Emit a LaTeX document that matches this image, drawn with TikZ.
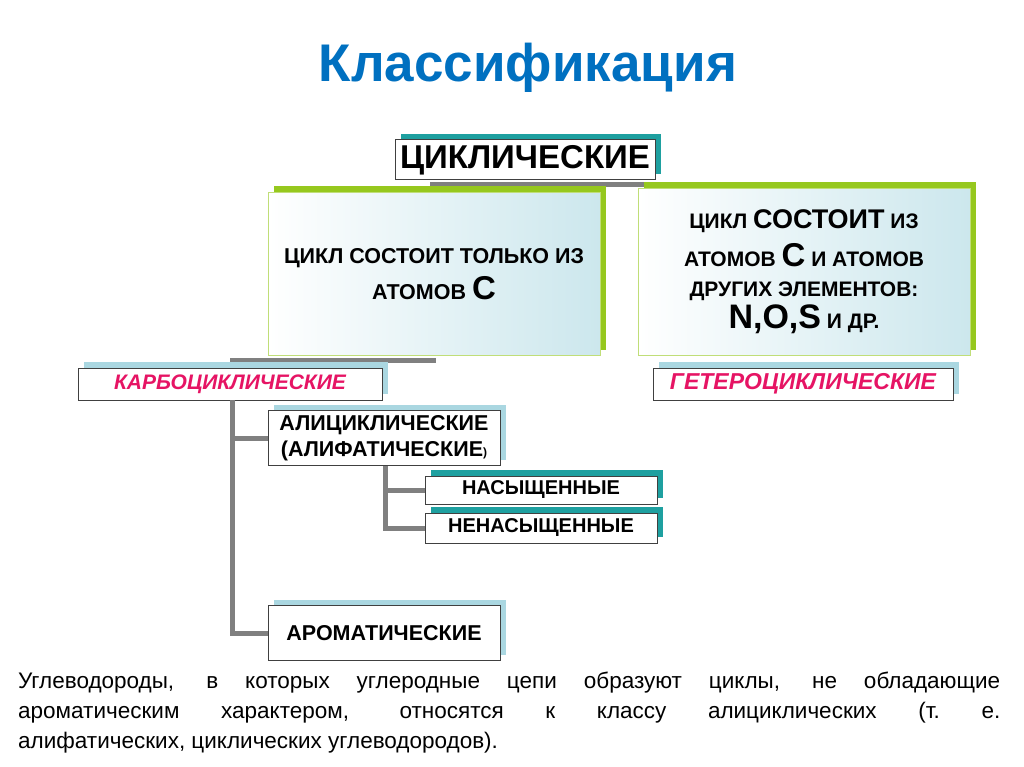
\documentclass[tikz,border=0pt]{standalone}
\usepackage{fontspec}
\setmainfont{Liberation Sans}
\usetikzlibrary{shadows}
\definecolor{ttl}{RGB}{0,112,192}
\definecolor{tealsh}{RGB}{30,160,160}
\definecolor{lbsh}{RGB}{170,215,225}
\definecolor{grn}{RGB}{150,200,30}
\definecolor{mag}{RGB}{230,20,100}
\definecolor{conn}{RGB}{128,128,128}
\tikzset{
 box/.style={draw=black!75, line width=1pt, fill=white, font=\bfseries, align=center, inner sep=0pt},
 tsh/.style={drop shadow={shadow xshift=6pt, shadow yshift=6pt, opacity=1, fill=tealsh}},
 lsh/.style={drop shadow={shadow xshift=6pt, shadow yshift=6pt, opacity=1, fill=lbsh}},
 bigbox/.style={draw=grn!60, line width=1pt, left color=white, right color=lbsh!60, align=center, font=\bfseries, inner sep=0pt,
   drop shadow={shadow xshift=6pt, shadow yshift=6pt, opacity=1, fill=grn}},
 cn/.style={conn, line width=5pt}
}
\begin{document}
\begin{tikzpicture}[x=1pt,y=-1pt]
\useasboundingbox (0,0) rectangle (1024,767);
\node[font=\bfseries\fontsize{53}{56}\selectfont, text=ttl] (title) at (528,68) {Классификация};
\coordinate (hl) at (430,185); \coordinate (hr) at (808,185);
\draw[cn] (hl) -- (hr);
\coordinate (ml) at (230,360); \coordinate (mr) at (436,360);
\draw[cn] (ml) -- (mr);
\node[box, tsh, minimum width=260, minimum height=40, font=\bfseries\fontsize{33}{35}\selectfont] (cyc) at (525,160) {ЦИКЛИЧЕСКИЕ};
\node[bigbox, minimum width=332, minimum height=163, font=\bfseries\fontsize{21.5}{30}\selectfont] (left) at (434,274) {ЦИКЛ СОСТОИТ ТОЛЬКО ИЗ\\[6pt] АТОМОВ {\fontsize{33}{33}\selectfont C}};
\node[bigbox, minimum width=332, minimum height=167, font=\bfseries\fontsize{21}{30}\selectfont] (right) at (804,272) {ЦИКЛ {\fontsize{27}{27}\selectfont СОСТОИТ} ИЗ\\[8pt] АТОМОВ {\fontsize{33}{33}\selectfont C} И АТОМОВ\\ ДРУГИХ ЭЛЕМЕНТОВ:\\[2pt] {\fontsize{34}{34}\selectfont N,O,S} И ДР.};
\node[box, lsh, minimum width=304, minimum height=32, text=mag, font=\bfseries\itshape\fontsize{21}{22}\selectfont] (carb) at (230,384) {КАРБОЦИКЛИЧЕСКИЕ};
\node[box, lsh, minimum width=300, minimum height=32, text=mag, font=\bfseries\itshape\fontsize{23}{22}\selectfont] (het) at (803,384) {ГЕТЕРОЦИКЛИЧЕСКИЕ};
\node[box, lsh, minimum width=232, minimum height=55, font=\bfseries\fontsize{21.5}{26}\selectfont] (ali) at (384,438) {АЛИЦИКЛИЧЕСКИЕ\\(АЛИФАТИЧЕСКИЕ{\fontsize{12}{12}\selectfont)}};
\node[box, tsh, minimum width=232, minimum height=28, font=\bfseries\fontsize{20}{22}\selectfont] (sat) at (541,490) {НАСЫЩЕННЫЕ};
\node[box, tsh, minimum width=232, minimum height=30, font=\bfseries\fontsize{20}{22}\selectfont] (uns) at (541,528) {НЕНАСЫЩЕННЫЕ};
\node[box, lsh, minimum width=232, minimum height=55, font=\bfseries\fontsize{21.5}{26}\selectfont] (aro) at (384,633) {АРОМАТИЧЕСКИЕ};
\draw[cn] (232,400) |- (aro.west);
\draw[cn] (232,438) -- (ali.west);
\draw[cn] (385,466) |- (uns.west);
\draw[cn] (385,490) -- (sat.west);
\node[anchor=north west, text width=982pt, align=justify, font=\fontsize{22.5}{30}\selectfont, inner sep=0pt] (txt) at (18,672) {Углеводороды, в которых углеродные цепи образуют циклы, не обладающие\linebreak ароматическим характером, относятся к классу алициклических (т.~е.\linebreak алифатических, циклических углеводородов).};
\end{tikzpicture}
\end{document}
